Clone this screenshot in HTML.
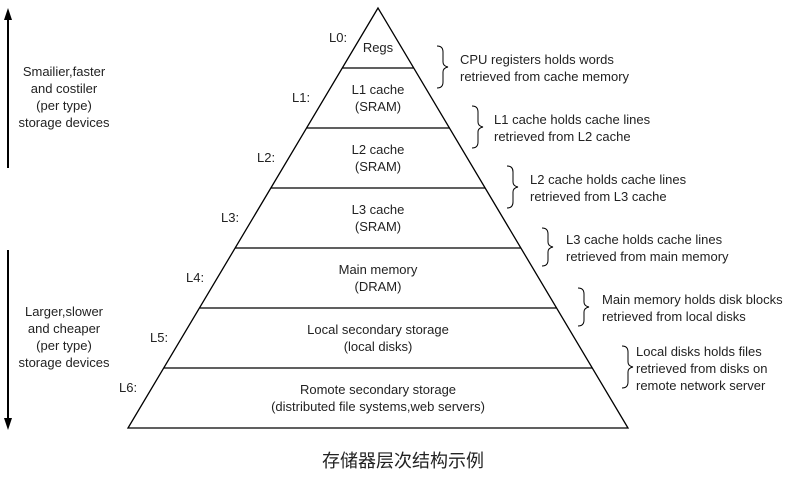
<!DOCTYPE html>
<html><head><meta charset="utf-8"><style>
html,body{margin:0;padding:0;background:#fff;}
svg text{font-family:"Liberation Sans","Noto Sans CJK SC",sans-serif;font-size:13px;fill:#222;}
</style></head><body>
<svg width="811" height="477" viewBox="0 0 811 477" xmlns="http://www.w3.org/2000/svg">
<g stroke="#000" stroke-width="1.3" fill="none">
<polygon points="378,8 128,428 628,428"/>
<line x1="342" y1="68" x2="414" y2="68"/>
<line x1="307" y1="128" x2="450" y2="128"/>
<line x1="271" y1="188" x2="485" y2="188"/>
<line x1="235" y1="248" x2="521" y2="248"/>
<line x1="200" y1="308" x2="557" y2="308"/>
<line x1="164" y1="368" x2="592" y2="368"/>
<line x1="8" y1="168" x2="8" y2="18" stroke-width="2"/>
<line x1="8" y1="250" x2="8" y2="418" stroke-width="2"/>
</g>
<polygon points="8,8 4,20 12,20" fill="#000"/>
<polygon points="8,430 4,418 12,418" fill="#000"/>
<g stroke="#000" stroke-width="1" fill="none">
<path d="M437,46 q6,0 6,6 v10 q0,4 5,5 q-5,1 -5,5 v10 q0,6 -6,6"/>
<path d="M472,106 q6,0 6,6 v10 q0,4 5,5 q-5,1 -5,5 v10 q0,6 -6,6"/>
<path d="M507,166 q6,0 6,6 v10 q0,4 5,5 q-5,1 -5,5 v10 q0,6 -6,6"/>
<path d="M542,228 q6,0 6,6 v8 q0,4 5,5 q-5,1 -5,5 v8 q0,6 -6,6"/>
<path d="M578,288 q6,0 6,6 v8 q0,4 5,5 q-5,1 -5,5 v8 q0,6 -6,6"/>
<path d="M622,346 q6,0 6,6 v10 q0,4 5,5 q-5,1 -5,5 v10 q0,6 -6,6"/>
</g>
<g text-anchor="middle">
<text x="378" y="52">Regs</text>
<text x="378" y="94">L1 cache</text><text x="378" y="111">(SRAM)</text>
<text x="378" y="154">L2 cache</text><text x="378" y="171">(SRAM)</text>
<text x="378" y="214">L3 cache</text><text x="378" y="231">(SRAM)</text>
<text x="378" y="274">Main memory</text><text x="378" y="291">(DRAM)</text>
<text x="378" y="334">Local secondary storage</text><text x="378" y="351">(local disks)</text>
<text x="378" y="394">Romote secondary storage</text><text x="378" y="411">(distributed file systems,web servers)</text>
<text x="64" y="76">Smailier,faster</text><text x="64" y="93">and costiler</text><text x="64" y="110">(per type)</text><text x="64" y="127">storage devices</text>
<text x="64" y="316">Larger,slower</text><text x="64" y="333">and cheaper</text><text x="64" y="350">(per type)</text><text x="64" y="367">storage devices</text>
<text x="403" y="467" style="font-size:18px">存储器层次结构示例</text>
</g>
<text x="329" y="42">L0:</text>
<text x="292" y="102">L1:</text>
<text x="257" y="162">L2:</text>
<text x="221" y="222">L3:</text>
<text x="186" y="282">L4:</text>
<text x="150" y="342">L5:</text>
<text x="119" y="392">L6:</text>
<text x="460" y="64">CPU registers holds words</text><text x="460" y="81">retrieved from cache memory</text>
<text x="494" y="124">L1 cache holds cache lines</text><text x="494" y="141">retrieved from L2 cache</text>
<text x="530" y="184">L2 cache holds cache lines</text><text x="530" y="201">retrieved from L3 cache</text>
<text x="566" y="244">L3 cache holds cache lines</text><text x="566" y="261">retrieved from main memory</text>
<text x="602" y="304">Main memory holds disk blocks</text><text x="602" y="321">retrieved from local disks</text>
<text x="636" y="356">Local disks holds files</text><text x="636" y="373">retrieved from disks on</text><text x="636" y="390">remote network server</text>
</svg>
</body></html>
